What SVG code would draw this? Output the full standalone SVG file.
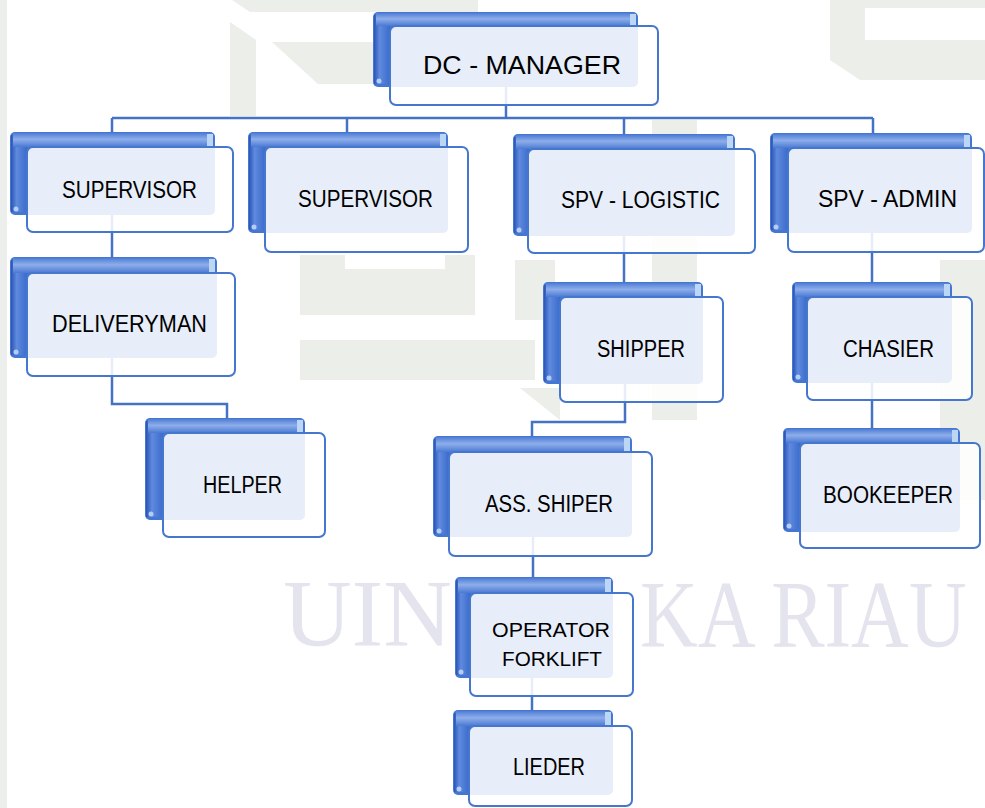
<svg xmlns="http://www.w3.org/2000/svg" width="985" height="808" viewBox="0 0 985 808">
  <defs>
    <linearGradient id="gLeft" x1="0" y1="0" x2="1" y2="0">
      <stop offset="0" stop-color="#2a55b6"/>
      <stop offset="0.35" stop-color="#5f8ade"/>
      <stop offset="1" stop-color="#3b6bcb"/>
    </linearGradient>
    <linearGradient id="gTop" x1="0" y1="0" x2="0" y2="1">
      <stop offset="0" stop-color="#4f7dd6"/>
      <stop offset="0.45" stop-color="#8eaeea"/>
      <stop offset="1" stop-color="#4a79d3"/>
    </linearGradient>
    <style>
      .wm { fill: #eceee9; }
      .wmt { font-family: "Liberation Serif", "Times New Roman", serif; font-size: 95px; fill: #e4e4ee; }
      .back { fill: #4576d1; }
      .bl { fill: url(#gLeft); }
      .bt { fill: url(#gTop); }
      .dot { fill: #b3cdf4; }
      .hi { fill: #bcd6f6; }
      .front { fill: #ffffff; fill-opacity: 0.87; stroke: #4677cf; stroke-width: 2; }
      .lbl { font-family: "Liberation Sans", Arial, sans-serif; font-size: 23px; fill: #000000; text-anchor: middle; }
      .big { font-size: 26px; }
      .small { font-size: 21px; }
      .conn { fill: none; stroke: #4472c4; stroke-width: 2.5; }
    </style>
  </defs>

  <rect x="0" y="0" width="985" height="808" fill="#ffffff"/>

  <!-- background watermark -->
  <g id="watermark">
    <rect x="0" y="0" width="7" height="808" fill="#eceeec"/>
    <polygon class="wm" points="232,0 478,0 478,12 250,12"/>
    <polygon class="wm" points="230,22 256,40 256,116 230,116"/>
    <polygon class="wm" points="272,42 372,42 420,84 318,84"/>
    <rect class="wm" x="300" y="255" width="175" height="60"/>
    <rect x="345" y="255" width="100" height="14" fill="#ffffff"/>
    <rect class="wm" x="300" y="340" width="235" height="40"/>
    <rect class="wm" x="515" y="260" width="40" height="60"/>
    <polygon class="wm" points="520,388 560,388 560,420"/>
    <polygon class="wm" points="830,0 985,0 985,80 860,80 830,60"/>
    <rect x="865" y="8" width="120" height="32" fill="#ffffff"/>
    <rect class="wm" x="652" y="120" width="45" height="300"/>
    <rect class="wm" x="940" y="260" width="45" height="240"/>
    <text class="wmt" x="283" y="646">UIN</text>
    <text class="wmt" x="0" y="0" style="font-size:80px" transform="translate(640,647) scale(1,1.2)">KA RIAU</text>
  </g>

  <!-- connectors -->
  <g id="connectors">
    <path class="conn" d="M506,87 V118"/>
    <path class="conn" d="M112,118 H873"/>
    <path class="conn" d="M112,118 V132 M347,118 V132 M624,118 V134 M873,118 V133"/>
    <path class="conn" d="M112,215 V257"/>
    <path class="conn" d="M112,358 V404 H227 V418"/>
    <path class="conn" d="M624,236 V282"/>
    <path class="conn" d="M625,384 V422 H532 V436"/>
    <path class="conn" d="M533,537 V577"/>
    <path class="conn" d="M532,678 V710"/>
    <path class="conn" d="M872,233 V282"/>
    <path class="conn" d="M872,383 V428"/>
  </g>

  <!-- nodes -->
  <g id="dc-manager">
    <rect class="back" x="373" y="12" width="265" height="75" rx="5"/>
    <rect class="bl" x="374" y="15" width="16" height="69"/>
    <rect class="bt" x="376" y="13" width="259" height="13"/>
    <rect class="hi" x="630" y="14" width="6" height="12"/>
    <circle class="dot" cx="379" cy="81" r="2.5"/>
    <rect class="front" x="390" y="26" width="268" height="79" rx="6"/>
    <text class="lbl big" x="522" y="74" textLength="198" lengthAdjust="spacingAndGlyphs">DC - MANAGER</text>
  </g>

  <g id="supervisor-1">
    <rect class="back" x="10" y="132" width="205" height="83" rx="5"/>
    <rect class="bl" x="11" y="135" width="16" height="77"/>
    <rect class="bt" x="13" y="133" width="199" height="14"/>
    <rect class="hi" x="207" y="134" width="6" height="13"/>
    <circle class="dot" cx="16" cy="209" r="2.5"/>
    <rect class="front" x="27" y="147" width="206" height="85" rx="6"/>
    <text class="lbl" x="129.5" y="198" textLength="135" lengthAdjust="spacingAndGlyphs">SUPERVISOR</text>
  </g>

  <g id="supervisor-2">
    <rect class="back" x="248" y="132" width="200" height="101" rx="5"/>
    <rect class="bl" x="249" y="135" width="16" height="95"/>
    <rect class="bt" x="251" y="133" width="194" height="14"/>
    <rect class="hi" x="440" y="134" width="6" height="13"/>
    <circle class="dot" cx="254" cy="227" r="2.5"/>
    <rect class="front" x="265" y="147" width="203" height="105" rx="6"/>
    <text class="lbl" x="365.5" y="207" textLength="135" lengthAdjust="spacingAndGlyphs">SUPERVISOR</text>
  </g>

  <g id="spv-logistic">
    <rect class="back" x="513" y="134" width="222" height="102" rx="5"/>
    <rect class="bl" x="514" y="137" width="15" height="96"/>
    <rect class="bt" x="516" y="135" width="216" height="14"/>
    <rect class="hi" x="727" y="136" width="6" height="13"/>
    <circle class="dot" cx="519" cy="230" r="2.5"/>
    <rect class="front" x="528" y="149" width="227" height="104" rx="6"/>
    <text class="lbl" x="640.5" y="208" textLength="159" lengthAdjust="spacingAndGlyphs">SPV - LOGISTIC</text>
  </g>

  <g id="spv-admin">
    <rect class="back" x="770" y="133" width="202" height="100" rx="5"/>
    <rect class="bl" x="771" y="136" width="17" height="94"/>
    <rect class="bt" x="773" y="134" width="196" height="14"/>
    <rect class="hi" x="964" y="135" width="6" height="13"/>
    <circle class="dot" cx="776" cy="227" r="2.5"/>
    <rect class="front" x="788" y="148" width="196" height="104" rx="6"/>
    <text class="lbl" x="887.5" y="207" textLength="139" lengthAdjust="spacingAndGlyphs">SPV - ADMIN</text>
  </g>

  <g id="deliveryman">
    <rect class="back" x="10" y="257" width="207" height="101" rx="5"/>
    <rect class="bl" x="11" y="260" width="16" height="95"/>
    <rect class="bt" x="13" y="258" width="201" height="15"/>
    <rect class="hi" x="209" y="259" width="6" height="14"/>
    <circle class="dot" cx="16" cy="352" r="2.5"/>
    <rect class="front" x="27" y="273" width="208" height="103" rx="6"/>
    <text class="lbl" x="129.5" y="332" textLength="155" lengthAdjust="spacingAndGlyphs">DELIVERYMAN</text>
  </g>

  <g id="helper">
    <rect class="back" x="145" y="418" width="160" height="102" rx="5"/>
    <rect class="bl" x="146" y="421" width="17" height="96"/>
    <rect class="bt" x="148" y="419" width="154" height="14"/>
    <rect class="hi" x="297" y="420" width="6" height="13"/>
    <circle class="dot" cx="151" cy="514" r="2.5"/>
    <rect class="front" x="163" y="433" width="162" height="104" rx="6"/>
    <text class="lbl" x="242.5" y="493" textLength="79" lengthAdjust="spacingAndGlyphs">HELPER</text>
  </g>

  <g id="shipper">
    <rect class="back" x="543" y="282" width="160" height="102" rx="5"/>
    <rect class="bl" x="544" y="285" width="16" height="96"/>
    <rect class="bt" x="546" y="283" width="154" height="14"/>
    <rect class="hi" x="695" y="284" width="6" height="13"/>
    <circle class="dot" cx="549" cy="378" r="2.5"/>
    <rect class="front" x="560" y="297" width="163" height="105" rx="6"/>
    <text class="lbl" x="641" y="357" textLength="88" lengthAdjust="spacingAndGlyphs">SHIPPER</text>
  </g>

  <g id="chasier">
    <rect class="back" x="792" y="282" width="160" height="101" rx="5"/>
    <rect class="bl" x="793" y="285" width="14" height="95"/>
    <rect class="bt" x="795" y="283" width="154" height="14"/>
    <rect class="hi" x="944" y="284" width="6" height="13"/>
    <circle class="dot" cx="798" cy="377" r="2.5"/>
    <rect class="front" x="807" y="297" width="165" height="103" rx="6"/>
    <text class="lbl" x="888.5" y="357" textLength="91" lengthAdjust="spacingAndGlyphs">CHASIER</text>
  </g>

  <g id="bookeeper">
    <rect class="back" x="783" y="428" width="177" height="104" rx="5"/>
    <rect class="bl" x="784" y="431" width="16" height="98"/>
    <rect class="bt" x="786" y="429" width="171" height="14"/>
    <rect class="hi" x="952" y="430" width="6" height="13"/>
    <circle class="dot" cx="789" cy="526" r="2.5"/>
    <rect class="front" x="800" y="443" width="180" height="105" rx="6"/>
    <text class="lbl" x="888" y="503" textLength="130" lengthAdjust="spacingAndGlyphs">BOOKEEPER</text>
  </g>

  <g id="ass-shiper">
    <rect class="back" x="433" y="436" width="199" height="101" rx="5"/>
    <rect class="bl" x="434" y="439" width="15" height="95"/>
    <rect class="bt" x="436" y="437" width="193" height="15"/>
    <rect class="hi" x="624" y="438" width="6" height="14"/>
    <circle class="dot" cx="439" cy="531" r="2.5"/>
    <rect class="front" x="449" y="452" width="203" height="104" rx="6"/>
    <text class="lbl" x="549" y="512" textLength="128" lengthAdjust="spacingAndGlyphs">ASS. SHIPER</text>
  </g>

  <g id="operator-forklift">
    <rect class="back" x="455" y="577" width="158" height="101" rx="5"/>
    <rect class="bl" x="456" y="580" width="14" height="95"/>
    <rect class="bt" x="458" y="578" width="152" height="15"/>
    <rect class="hi" x="605" y="579" width="6" height="14"/>
    <circle class="dot" cx="461" cy="672" r="2.5"/>
    <rect class="front" x="470" y="593" width="163" height="103" rx="6"/>
    <text class="lbl small" x="551" y="637" textLength="118" lengthAdjust="spacingAndGlyphs">OPERATOR</text>
    <text class="lbl small" x="552" y="666" textLength="100" lengthAdjust="spacingAndGlyphs">FORKLIFT</text>
  </g>

  <g id="lieder">
    <rect class="back" x="453" y="710" width="160" height="85" rx="5"/>
    <rect class="bl" x="454" y="713" width="15" height="79"/>
    <rect class="bt" x="456" y="711" width="154" height="15"/>
    <rect class="hi" x="605" y="712" width="6" height="14"/>
    <circle class="dot" cx="459" cy="789" r="2.5"/>
    <rect class="front" x="469" y="726" width="163" height="80" rx="6"/>
    <text class="lbl" x="549" y="775" textLength="72" lengthAdjust="spacingAndGlyphs">LIEDER</text>
  </g>
</svg>
